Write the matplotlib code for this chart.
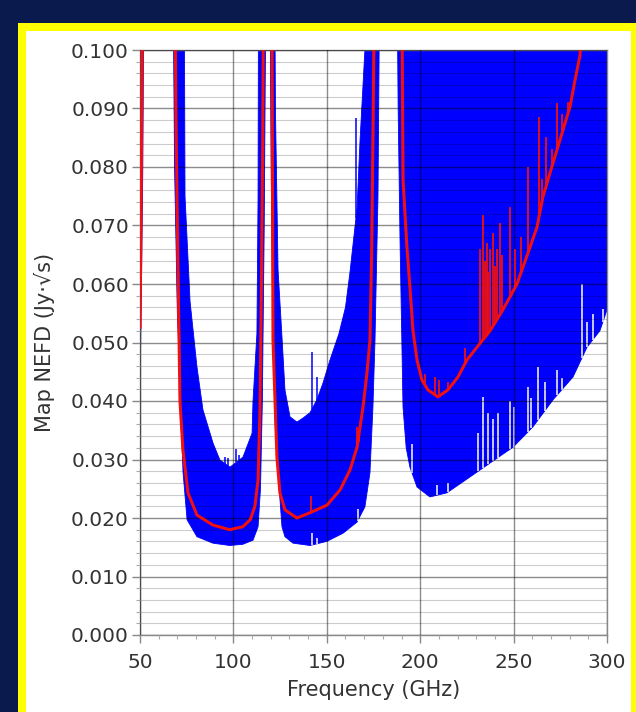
import matplotlib
matplotlib.use("Agg")
import matplotlib.pyplot as plt
import numpy as np
from matplotlib.patches import Rectangle
from matplotlib.ticker import MultipleLocator, FormatStrFormatter

nan = np.nan

# lower edge of the blue NEFD range (GHz, Jy*sqrt(s)); nan splits the bands
lower_f = [50.0, 50.8, 51.5, 52.2, nan,
           67.5, 68.5, 70.0, 71.4, 73.0, 75.2, 80.5, 89.0, 98.0, 105.0, 110.5, 113.2, 114.5, 115.5, 116.5, 117.6, nan,
           119.4, 120.2, 121.2, 122.5, 123.9, 126.0, 127.6, 131.9, 141.0, 150.0, 158.7, 166.2, 170.4, 173.1, 174.7,
           175.8, 177.4, 178.5, nan,
           187.4, 188.2, 189.2, 190.3, 190.8, 192.5, 194.5, 198.3, 205.2, 214.3, 226.6, 237.4, 249.7, 260.4, 271.1,
           281.8, 289.3, 296.2, 300.0]
lower_v = [0.042, 0.060, 0.080, 0.120, nan,
           0.120, 0.080, 0.055, 0.0436, 0.028, 0.0197, 0.0168, 0.0157, 0.0153, 0.0155, 0.0162, 0.0185, 0.025, 0.040,
           0.070, 0.120, nan,
           0.120, 0.080, 0.050, 0.035, 0.0277, 0.0185, 0.0168, 0.0157, 0.0153, 0.0160, 0.0174, 0.0193, 0.0219,
           0.0277, 0.039, 0.0504, 0.075, 0.120, nan,
           0.120, 0.090, 0.0675, 0.048, 0.039, 0.032, 0.0287, 0.0253, 0.0236, 0.0243, 0.0270, 0.0294, 0.0321,
           0.0356, 0.0402, 0.0441, 0.0492, 0.0520, 0.0556]

# upper edge of the blue range
upper_f = [50.0, nan,
           73.6, 74.1, 76.8, 80.5, 83.7, 89.1, 92.8, 98.2, 105.1, 110.0, 110.5, 112.6, 113.2, 113.5, nan,
           122.0, 122.5, 123.9, 126.0, 127.6, 130.3, 134.0, 137.3, 141.0, 144.7, 148.0, 151.7, 156.5, 160.0,
           162.4, 166.2, 167.8, 170.4, 171.0, nan,
           187.0, 300.0]
upper_v = [0.120, nan,
           0.120, 0.075, 0.057, 0.0458, 0.0385, 0.0328, 0.0299, 0.0287, 0.0304, 0.0345, 0.040, 0.0516, 0.075,
           0.120, nan,
           0.120, 0.090, 0.0624, 0.051, 0.0419, 0.0373, 0.0364, 0.0371, 0.038, 0.0402, 0.0431, 0.047, 0.0515,
           0.0560, 0.062, 0.073, 0.0846, 0.100, 0.120, nan,
           0.120, 0.120]

# median NEFD (red)
median_f = [50.0, 50.5, 51.2, 51.5, nan,
            68.5, 69.2, 70.0, 71.4, 73.0, 75.7, 80.5, 89.0, 98.0, 105.0, 109.0, 111.5, 113.2, 114.2, 115.0,
            115.7, 116.3, nan,
            120.5, 120.9, 121.2, 123.3, 124.9, 127.6, 134.0, 141.0, 150.1, 157.1, 162.4, 166.2, 169.4, 171.5,
            173.1, 174.0, 174.7, 175.8, nan,
            190.0, 190.8, 192.9, 194.5, 196.1, 198.3, 200.9, 204.1, 209.5, 214.8, 220.2, 225.0, 230.4, 237.4,
            244.3, 251.8, 258.8, 262.5, 265.7, 269.5, 274.8, 280.2, 282.9, 285.5, 287.0]
median_v = [0.0526, 0.070, 0.100, 0.120, nan,
            0.120, 0.090, 0.070, 0.040, 0.0316, 0.0243, 0.0205, 0.0188, 0.0180, 0.0185, 0.0197, 0.022, 0.0265,
            0.038, 0.060, 0.085, 0.120, nan,
            0.120, 0.080, 0.0504, 0.0304, 0.0243, 0.0214, 0.0200, 0.0209, 0.0222, 0.0248, 0.0282, 0.0321,
            0.039, 0.0448, 0.0504, 0.065, 0.085, 0.120, nan,
            0.120, 0.0778, 0.0663, 0.0595, 0.0521, 0.047, 0.0436, 0.0419, 0.0407, 0.0419, 0.0441, 0.047,
            0.0492, 0.052, 0.0556, 0.060, 0.0663, 0.0697, 0.0749, 0.079, 0.0846, 0.0903, 0.0949, 0.099, 0.105]

# narrow atmospheric lines: tops of the white gaps, blue spikes and red spikes
lower_spike_f = [142.0, 144.5, 166.5, 195.6, 209.0, 214.8, 231.0, 233.6, 236.3, 239.0, 241.6, 248.1, 250.0,
                 257.7, 259.5, 263.1, 266.8, 273.2, 275.9, 286.6, 289.3, 292.5, 297.8]
lower_spike_v = [0.0175, 0.0165, 0.0215, 0.0327, 0.0257, 0.0260, 0.0346, 0.0407, 0.0380, 0.0370, 0.0380,
                 0.0400, 0.0390, 0.0424, 0.0405, 0.0458, 0.0432, 0.0453, 0.0440, 0.0600, 0.0535, 0.0549, 0.0558]

upper_spike_f = [95.5, 97.0, 101.5, 103.0, 142.1, 144.7, 153.9, 165.6]
upper_spike_v = [0.0305, 0.0302, 0.0318, 0.0308, 0.0484, 0.0441, 0.0490, 0.0884]

median_spike_f = [141.5, 166.0, 167.0, 202.6, 208.0, 209.8, 214.8, 224.0, 232.0, 233.6, 234.5, 235.5, 236.5,
                  237.5, 239.0, 240.0, 241.0, 242.7, 244.0, 248.1, 250.5, 254.0, 257.7, 263.6, 265.0, 267.3,
                  270.5, 273.2, 276.0, 279.1]
median_spike_v = [0.0238, 0.0356, 0.0330, 0.0446, 0.0441, 0.0436, 0.0432, 0.0490, 0.0660, 0.0718, 0.0640,
                  0.0670, 0.0620, 0.0660, 0.0687, 0.0630, 0.0660, 0.0704, 0.0650, 0.0732, 0.0660, 0.0680,
                  0.0800, 0.0885, 0.0780, 0.0851, 0.0830, 0.0910, 0.0890, 0.0911]


def split_bands(f, v):
    f = np.asarray(f, float)
    v = np.asarray(v, float)
    cut = np.where(np.isnan(f))[0]
    out = []
    for a, b in zip(np.split(f, cut), np.split(v, cut)):
        ok = ~np.isnan(a)
        out.append((a[ok], b[ok]))
    return out


def base_of(f, v, at):
    f = np.asarray(f, float)
    v = np.asarray(v, float)
    ok = ~np.isnan(f)
    return np.interp(at, f[ok], v[ok])


fig = plt.figure(figsize=(6.36, 7.12), dpi=100, facecolor="#0a1a4c")
fig.patches.append(Rectangle((18 / 636, 0), 1, 1 - 23 / 712, transform=fig.transFigure,
                             facecolor="#ffff00", edgecolor="none", zorder=-2))
fig.patches.append(Rectangle((26 / 636, 0), (631 - 26) / 636, 1 - 31 / 712, transform=fig.transFigure,
                             facecolor="white", edgecolor="none", zorder=-1))

ax = fig.add_axes([140 / 636, 77 / 712, 467 / 636, 585 / 712])
ax.set_zorder(2)
ax.set_facecolor("white")

blue = "#0000ff"
red = "#f01010"

# blue range, one polygon per band
for (lf, lv), (uf, uv) in zip(split_bands(lower_f, lower_v), split_bands(upper_f, upper_v)):
    ax.fill(np.concatenate([lf, uf[::-1]]), np.concatenate([lv, uv[::-1]]),
            color=blue, lw=0.6, zorder=1)

ax.vlines(lower_spike_f, base_of(lower_f, lower_v, lower_spike_f), lower_spike_v,
          color="white", lw=1.1, zorder=1.2)
ax.vlines(upper_spike_f, base_of(upper_f, upper_v, upper_spike_f), upper_spike_v,
          color=blue, lw=1.1, zorder=1.2)

ax.plot(median_f, median_v, color=red, lw=2.2, zorder=3)
ax.vlines(median_spike_f, base_of(median_f, median_v, median_spike_f), median_spike_v,
          color=red, lw=1.3, zorder=3)

ax.set_xlim(50, 300)
ax.set_ylim(0, 0.1)
ax.xaxis.set_major_locator(MultipleLocator(50))
ax.xaxis.set_minor_locator(MultipleLocator(10))
ax.yaxis.set_major_locator(MultipleLocator(0.01))
ax.yaxis.set_minor_locator(MultipleLocator(0.002))
ax.yaxis.set_major_formatter(FormatStrFormatter("%.3f"))

ax.set_axisbelow(False)
ax.grid(which="major", axis="both", color="black", alpha=0.45, lw=1.0)
ax.grid(which="minor", axis="y", color="black", alpha=0.2, lw=0.8)

ax.tick_params(which="major", length=6, width=1, color="#888888", labelsize=14.5,
               labelcolor="#333333")
ax.tick_params(axis="x", which="major", pad=7)
ax.tick_params(axis="y", which="major", pad=2)
ax.tick_params(which="minor", length=3, width=0.8, color="#aaaaaa")
for s in ax.spines.values():
    s.set_color("#888888")
    s.set_linewidth(1.0)

ax.set_xlabel("Frequency (GHz)", fontsize=15, color="#333333")
ax.set_ylabel("Map NEFD (Jy·√s)", fontsize=15, color="#333333")
ax.xaxis.set_label_coords(0.5, -0.077)
ax.yaxis.set_label_coords(-0.181, 0.5)

fig.savefig("out.png", dpi=100, facecolor=fig.get_facecolor())
